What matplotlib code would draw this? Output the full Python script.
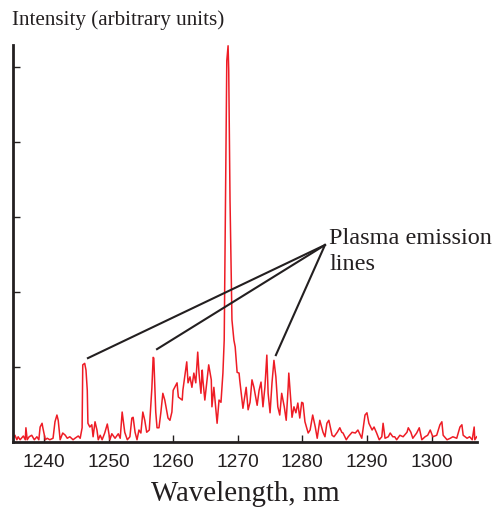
import numpy as np
import matplotlib
matplotlib.use("Agg")
import matplotlib.pyplot as plt

# spectrum (wavelength in nm, intensity in tick units)
wavelength = [
    1235.2, 1235.5, 1235.8, 1236.0, 1236.3, 1236.8, 1237.1, 1237.2, 1237.4, 1237.7,
    1238.1, 1238.5, 1238.9, 1239.2, 1239.4, 1239.7, 1239.8, 1240.2, 1240.5, 1240.9,
    1241.4, 1241.7, 1242.0, 1242.2, 1242.5, 1242.9, 1243.3, 1243.6, 1244.0, 1244.5,
    1244.8, 1245.3, 1245.6, 1245.9, 1246.0, 1246.3, 1246.5, 1246.7, 1246.8, 1247.1,
    1247.4, 1247.6, 1247.9, 1248.2, 1248.4, 1248.7, 1249.0, 1249.4, 1249.8, 1249.9,
    1250.2, 1250.5, 1251.0, 1251.5, 1251.8, 1252.1, 1252.2, 1252.5, 1252.9, 1253.3,
    1253.6, 1253.8, 1254.1, 1254.4, 1254.7, 1255.0, 1255.3, 1255.6, 1255.9, 1256.3,
    1256.7, 1256.9, 1257.0, 1257.3, 1257.5, 1257.8, 1258.1, 1258.4, 1258.7, 1259.2,
    1259.5, 1259.8, 1260.0, 1260.6, 1260.8, 1261.4, 1261.5, 1262.1, 1262.3, 1262.6,
    1262.9, 1263.2, 1263.5, 1263.8, 1264.0, 1264.3, 1264.5, 1264.6, 1264.9, 1265.2,
    1265.5, 1265.9, 1266.0, 1266.3, 1266.8, 1267.1, 1267.4, 1267.7, 1267.9, 1268.1,
    1268.3, 1268.5, 1268.6, 1268.8, 1269.1, 1269.4, 1269.6, 1269.9, 1270.2, 1270.3,
    1270.7, 1270.8, 1271.3, 1271.6, 1271.9, 1272.2, 1272.5, 1273.0, 1273.3, 1273.6,
    1273.9, 1274.2, 1274.5, 1274.7, 1275.0, 1275.3, 1275.6, 1275.9, 1276.2, 1276.5,
    1276.8, 1277.2, 1277.5, 1277.8, 1277.9, 1278.2, 1278.4, 1278.7, 1279.0, 1279.3,
    1279.6, 1279.9, 1280.1, 1280.4, 1280.9, 1281.2, 1281.6, 1282.0, 1282.3, 1282.7,
    1283.2, 1283.5, 1283.8, 1284.1, 1284.6, 1284.9, 1285.4, 1285.8, 1286.1, 1286.3,
    1286.8, 1287.1, 1287.7, 1288.2, 1288.6, 1289.2, 1289.7, 1290.0, 1290.3, 1290.8,
    1291.1, 1291.5, 1291.9, 1292.3, 1292.5, 1292.8, 1293.3, 1293.6, 1294.0, 1294.3,
    1294.6, 1295.1, 1295.6, 1296.2, 1296.4, 1296.8, 1297.1, 1297.7, 1298.1, 1298.5,
    1299.0, 1299.4, 1299.8, 1300.2, 1300.8, 1301.3, 1301.6, 1301.8, 1302.4, 1302.9,
    1303.3, 1303.9, 1304.4, 1304.7, 1304.9, 1305.5, 1305.9, 1306.3, 1306.6, 1306.7,
    1307.0,
]
intensity = [
    0.05, 0.09, 0.03, 0.07, 0.03, 0.08, 0.03, 0.19, 0.03, 0.07,
    0.09, 0.03, 0.07, 0.03, 0.20, 0.25, 0.20, 0.03, 0.05, 0.03,
    0.05, 0.27, 0.36, 0.29, 0.03, 0.12, 0.09, 0.05, 0.07, 0.03,
    0.05, 0.08, 0.05, 0.19, 1.03, 1.05, 0.96, 0.69, 0.25, 0.20,
    0.23, 0.07, 0.27, 0.16, 0.03, 0.09, 0.03, 0.12, 0.24, 0.19,
    0.03, 0.11, 0.05, 0.11, 0.05, 0.40, 0.33, 0.13, 0.03, 0.07,
    0.32, 0.33, 0.13, 0.03, 0.16, 0.12, 0.40, 0.29, 0.13, 0.16,
    0.72, 1.13, 1.12, 0.40, 0.19, 0.19, 0.40, 0.65, 0.56, 0.32,
    0.29, 0.40, 0.69, 0.79, 0.60, 0.56, 0.69, 1.07, 0.79, 0.87,
    0.73, 0.92, 0.79, 1.20, 0.92, 0.65, 0.96, 0.83, 0.56, 0.79,
    1.03, 0.83, 0.47, 0.73, 0.25, 0.56, 0.53, 0.92, 1.36, 3.23,
    5.09, 5.29, 4.96, 3.23, 1.63, 1.36, 1.27, 0.93, 0.92, 0.83,
    0.52, 0.45, 0.73, 0.43, 0.53, 0.83, 0.73, 0.49, 0.69, 0.80,
    0.47, 0.73, 1.16, 0.65, 0.39, 0.79, 1.09, 0.87, 0.47, 0.36,
    0.65, 0.47, 0.29, 0.73, 0.92, 0.56, 0.33, 0.47, 0.39, 0.52,
    0.32, 0.53, 0.52, 0.27, 0.12, 0.16, 0.36, 0.20, 0.05, 0.29,
    0.13, 0.07, 0.25, 0.29, 0.09, 0.07, 0.13, 0.19, 0.13, 0.12,
    0.03, 0.07, 0.13, 0.12, 0.16, 0.05, 0.36, 0.39, 0.25, 0.16,
    0.20, 0.12, 0.03, 0.07, 0.25, 0.05, 0.07, 0.12, 0.07, 0.07,
    0.03, 0.09, 0.07, 0.13, 0.19, 0.13, 0.05, 0.12, 0.19, 0.03,
    0.07, 0.09, 0.16, 0.07, 0.09, 0.23, 0.27, 0.09, 0.03, 0.05,
    0.07, 0.05, 0.20, 0.23, 0.09, 0.05, 0.07, 0.03, 0.20, 0.03,
    0.07,
]

x_ticks = [1240, 1250, 1260, 1270, 1280, 1290, 1300]
y_ticks = [1, 2, 3, 4, 5]

# annotation: label anchor and the three marked emission lines
label_pos = (1283.5, 2.63)
marked_lines = [(1246.8, 1.12), (1257.5, 1.24), (1275.9, 1.16)]

dark = "#231f20"
fig = plt.figure(figsize=(4.99, 5.07), dpi=100)
ax = fig.add_axes([0.0267, 0.1282, 0.930, 0.783])

ax.plot(wavelength, intensity, color="#ee1c25", lw=1.1)

ax.set_xlim(1235.25, 1307.1)
ax.set_ylim(0, 5.3)
ax.spines["top"].set_visible(False)
ax.spines["right"].set_visible(False)
for side in ["left", "bottom"]:
    ax.spines[side].set_color(dark)
    ax.spines[side].set_linewidth(2)

ax.set_xticks(x_ticks)
ax.set_yticks(y_ticks)
ax.set_yticklabels([])
ax.tick_params(direction="in", length=5, width=1, color=dark)
ax.tick_params(axis="x", labelsize=13.8, pad=8.5, labelcolor=dark)
for lbl in ax.get_xticklabels():
    lbl.set_family("Liberation Sans")

ax.set_xlabel("Wavelength, nm", family="Liberation Serif", fontsize=20.8,
              color=dark, labelpad=7.5)
fig.text(0.024, 0.979, "Intensity (arbitrary units)", family="Liberation Serif",
         fontsize=15.2, color=dark, ha="left", va="top")

for tx, ty in marked_lines:
    ax.plot([label_pos[0], tx], [label_pos[1], ty], color=dark, lw=1.5,
            clip_on=False)
ax.text(1284.2, 2.54, "Plasma emission\nlines", family="Liberation Serif",
        fontsize=17.5, color=dark, ha="left", va="center", linespacing=1.3)

fig.savefig("out.png", dpi=100)
